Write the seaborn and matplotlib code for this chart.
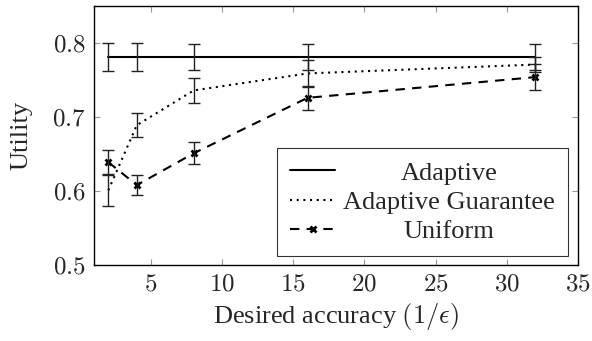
import numpy as np
import pandas as pd
import matplotlib
matplotlib.use('Agg')
import matplotlib.pyplot as plt
from matplotlib.transforms import Affine2D
import seaborn as sns

# values
accuracy = [2, 4, 8, 16, 32]
adaptive = [0.781, 0.781, 0.781, 0.781, 0.781]
adaptive_err = [0.019, 0.019, 0.018, 0.018, 0.018]
guarantee = [0.601, 0.689, 0.736, 0.759, 0.771]
guarantee_err = [0.021, 0.016, 0.017, 0.018, 0.010]
uniform = [0.639, 0.608, 0.651, 0.726, 0.754]
uniform_err = [0.016, 0.014, 0.015, 0.016, 0.018]

series = ['Adaptive', 'Adaptive Guarantee', 'Uniform']
df = pd.DataFrame({
    'x': accuracy * 3,
    'y': adaptive + guarantee + uniform,
    'err': adaptive_err + guarantee_err + uniform_err,
    'method': sum([[s] * len(accuracy) for s in series], []),
})

sns.set_style('ticks')
plt.rcParams['font.family'] = ['Liberation Serif', 'DejaVu Serif']
plt.rcParams['mathtext.fontset'] = 'cm'

fig = plt.figure(figsize=(5.92, 3.41), dpi=100)
ax = fig.add_axes([0.159, 0.223, 0.817, 0.759])

sns.lineplot(data=df, x='x', y='y', hue='method', style='method', ax=ax,
             palette=['black'] * 3, hue_order=series, style_order=series,
             dashes={'Adaptive': '', 'Adaptive Guarantee': (1, 2.2), 'Uniform': (4.5, 3.5)},
             markers=False, lw=1.5)

# pgfplots-like mark on the Uniform series
mark = dict(marker='x', markersize=4, markeredgewidth=2,
            markeredgecolor='black', markerfacecolor='black')
ax.lines[2].set(**mark)

for s in series:
    d = df[df['method'] == s]
    ax.errorbar(d['x'], d['y'], yerr=d['err'], fmt='none', ecolor='#222222',
                elinewidth=1.0, capsize=4, capthick=1.0)

ax.set_xlim(1, 35)
ax.set_ylim(0.5, 0.85)
ax.set_xticks([5, 10, 15, 20, 25, 30, 35])
ax.set_yticks([0.5, 0.6, 0.7, 0.8])
ax.set_xticklabels([f'${v}$' for v in [5, 10, 15, 20, 25, 30, 35]])
ax.set_yticklabels([f'${v:.1f}$' for v in [0.5, 0.6, 0.7, 0.8]])
ax.tick_params(direction='in', length=4, width=0.8, color='#999999',
               top=True, right=True, labelsize=18, pad=6)
for sp in ax.spines.values():
    sp.set_color('black')
    sp.set_linewidth(1.0)

ax.set_xlabel(r'Desired accuracy $(1/\epsilon)$', fontsize=19, labelpad=4)
ax.set_ylabel('Utility', fontsize=19, labelpad=14)

leg = ax.legend(loc='upper left', bbox_to_anchor=(0.378, 0.452), borderaxespad=0,
                fontsize=19, frameon=True, fancybox=False, edgecolor='black',
                handlelength=1.7, labelspacing=0.22, borderpad=0.5,
                handletextpad=0.3)
leg.get_frame().set_linewidth(0.8)
for h, t in zip(leg.legend_handles, leg.get_texts()):
    if t.get_text() == 'Uniform':
        h.set(**mark)

# center the legend texts like pgfplots does
fig.canvas.draw()
r = fig.canvas.get_renderer()
widths = [t.get_window_extent(r).width for t in leg.get_texts()]
wmax = max(widths)
for t, w in zip(leg.get_texts(), widths):
    t.set_transform(t.get_transform() + Affine2D().translate((wmax - w) / 2, 0))

fig.savefig('out.png', dpi=100)
